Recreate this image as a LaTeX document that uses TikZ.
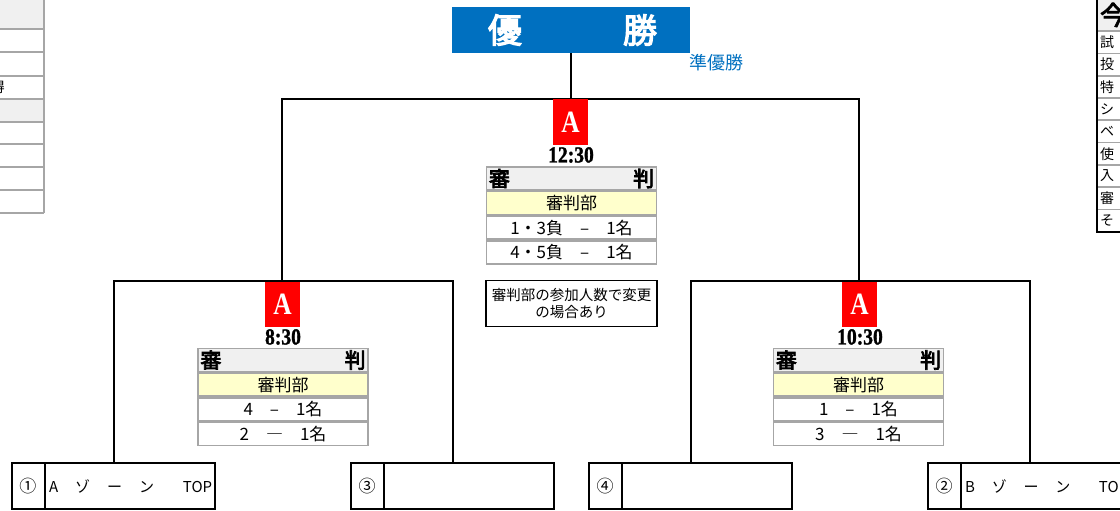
\documentclass[tikz,border=0pt]{standalone}
\usepackage{fontspec}
\setmainfont{Liberation Serif}
\newfontfamily\jp{Noto Sans CJK JP}
\newfontfamily\jpb{Noto Sans CJK JP}[FakeBold=3.5]
\newfontfamily\nserif{Liberation Serif}[FakeStretch=0.82]
\newfontfamily\nserifb{Liberation Serif}[FakeStretch=0.85, FakeBold=1.2]
\definecolor{tblue}{HTML}{0070C0}
\definecolor{tred}{HTML}{FF0000}
\definecolor{tyel}{HTML}{FFFFCC}
\definecolor{hgray}{HTML}{F0F0F0}
\definecolor{lgray}{HTML}{A6A6A6}
\tikzset{
  conn/.style={line width=2pt, black},
  redA/.style={fill=tred, minimum width=35pt, minimum height=45pt, inner sep=0pt,
    text=white, font=\nserif\bfseries\fontsize{31}{31}\selectfont},
  timelbl/.style={inner sep=0pt, font=\nserifb\bfseries\fontsize{23}{23}\selectfont},
  trow/.style={draw=lgray, line width=1.6pt, minimum width=170pt, minimum height=23pt,
    inner sep=0pt, font=\jp\fontsize{17}{17}\selectfont},
  hdrrow/.style={trow, fill=hgray},
  yelrow/.style={trow, fill=tyel},
  hdrtxt/.style={inner xsep=3pt, inner ysep=0pt, font=\jpb\fontsize{21}{21}\selectfont},
  teambox/.style={draw=black, line width=2pt, minimum width=203pt, minimum height=46pt,
    inner sep=0pt, anchor=north west},
  numtxt/.style={inner sep=0pt, font=\jp\fontsize{17}{17}\selectfont},
  teamtxt/.style={inner sep=0pt, anchor=west, text width=163pt, font=\jp\fontsize{15}{15}\selectfont},
  ptxt/.style={inner sep=0pt, font=\jp\fontsize{14}{14}\selectfont},
  pline/.style={draw=lgray, line width=1.6pt},
}
\newcommand\judgetab[5]{%
  \node[hdrrow] (#1h) at (#2,#3+11.5) {};
  \node[hdrtxt, anchor=west] (#1h1) at (#1h.west) {審};
  \node[hdrtxt, anchor=east] (#1h2) at (#1h.east) {判};
  \node[yelrow, anchor=north] (#1y) at (#1h.south) {審判部};
  \node[trow, anchor=north] (#1r1) at (#1y.south) {#4};
  \node[trow, anchor=north] (#1r2) at (#1r1.south) {#5};
}
\begin{document}
\begin{tikzpicture}[x=1pt, y=-1pt]
\useasboundingbox (0,0) rectangle (1120,511);
\clip (0,0) rectangle (1120,511);

% left partial table
\fill[hgray] (0,0) rectangle (44,29);
\fill[hgray] (0,99) rectangle (44,122);
\foreach \yy in {29,52,76,99,122,144,167,190,213} \draw[pline] (0,\yy) -- (44,\yy);
\draw[pline] (44,0) -- (44,213);
\begin{scope}
  \clip (0,77) rectangle (5,98);
  \node[ptxt, anchor=east] (lfrag) at (5,87.5) {得};
\end{scope}

% right partial table
\fill[hgray] (1097,0) rectangle (1120,31);
\foreach \yy in {31,53.5,76,98,120,142.5,165,187,209.5} \draw[pline] (1097,\yy) -- (1120,\yy);
\draw[line width=1.6pt] (1097,0) -- (1097,232) -- (1120,232);
\node[inner sep=0pt, anchor=west, font=\jpb\fontsize{26}{26}\selectfont] (rhead) at (1100,15) {今};
\foreach \ch [count=\i] in {試,投,特,シ,ベ,使,入,審,そ}
  \node[ptxt, anchor=west] (rc\i) at (1100,{31+11.2+(\i-1)*22.3}) {\ch};

% title
\node[fill=tblue, minimum width=238pt, minimum height=46pt, inner sep=0pt] (title) at (571,30) {};
\node[inner sep=0pt, text=white, font=\jpb\fontsize{34}{34}\selectfont] (yu) at (505,30) {優};
\node[inner sep=0pt, text=white, font=\jpb\fontsize{34}{34}\selectfont] (sho) at (640,30) {勝};
\node[inner sep=0pt, text=tblue, font=\jp\fontsize{18}{18}\selectfont] (runner) at (716,63) {準優勝};

% bracket junctions
\coordinate (tb) at (571,99);
\coordinate (sfL) at (282,281);
\coordinate (sfR) at (859,281);

% team boxes
\node[teambox] (b1) at (11,462) {};
\node[teambox] (b3) at (350,462) {};
\node[teambox] (b4) at (588,462) {};
\node[teambox] (b2) at (927,462) {};
\foreach \b/\n in {b1/①,b3/③,b4/④,b2/②}{
  \draw[line width=2pt] ([xshift=34pt]\b.north west) -- ([xshift=34pt]\b.south west);
  \node[numtxt] (\b n) at ([xshift=17pt]\b.west) {\n};
}
\node[teamtxt] (t1) at ([xshift=38pt]b1.west) {A\hfill ゾ\hfill ー\hfill ン\hfill\hspace{0.8em}TOP};
\node[teamtxt] (t2) at ([xshift=38pt]b2.west) {B\hfill ゾ\hfill ー\hfill ン\hfill\hspace{0.8em}TOP};

% connectors
\draw[conn] (title.south) -- (tb);
\draw[conn] (sfL) |- (tb) -| (sfR);
\draw[conn] (b1.north) |- (sfL) -| (b3.north);
\draw[conn] (b4.north) |- (sfR) -| (b2.north);

% match markers
\node[redA] (aC) at (570.5,122) {A};
\node[redA] (aL) at (282.5,304) {A};
\node[redA] (aR) at (859.5,304.5) {A};
\node[timelbl] (tC) at (571,155) {12:30};
\node[timelbl] (tL) at (283,337) {8:30};
\node[timelbl] (tR) at (860,337) {10:30};

% judge tables
\judgetab{jc}{571.5}{167}{1・3負　–　1名}{4・5負　–　1名}
\judgetab{jl}{283}{348.5}{4　–　1名}{2　―　1名}
\judgetab{jr}{858.5}{348.5}{1　–　1名}{3　―　1名}

% note
\node[draw=black, line width=1.6pt, minimum width=171pt, minimum height=46pt, inner sep=0pt,
  align=center, font=\jp\fontsize{14.5}{16.5}\selectfont] (note) at (571.5,303.5)
  {審判部の参加人数で変更\\の場合あり};
\end{tikzpicture}
\end{document}
